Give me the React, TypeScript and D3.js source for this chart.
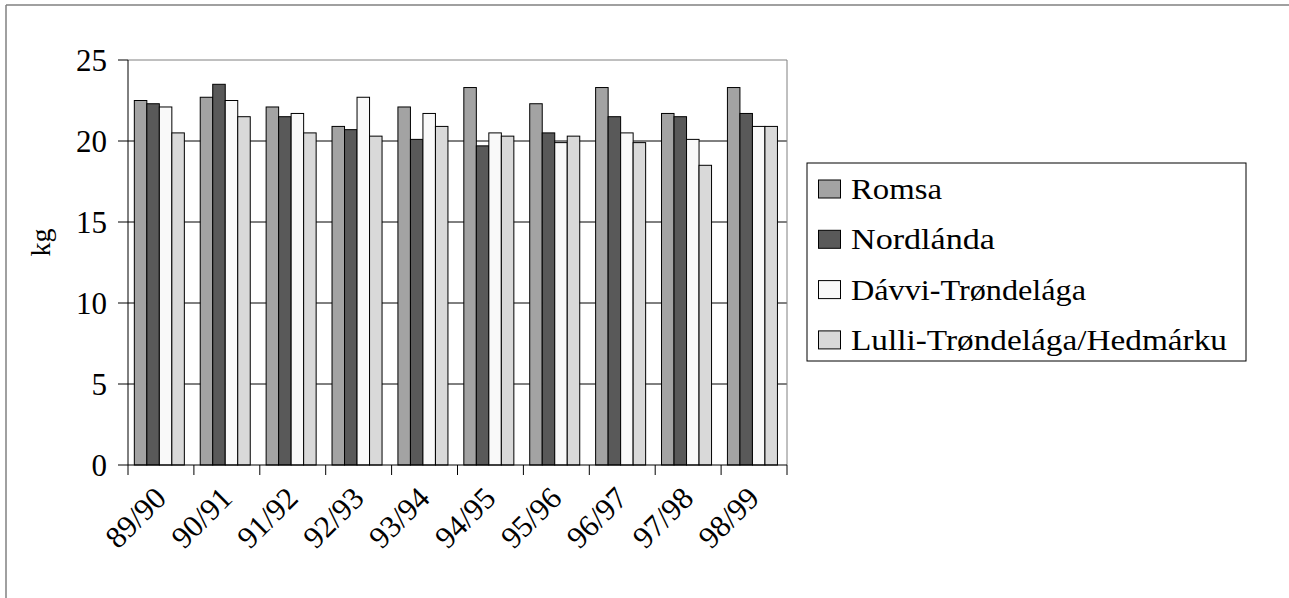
import { useEffect } from "react";
import * as d3 from "d3";

const seasons = ["89/90", "90/91", "91/92", "92/93", "93/94", "94/95", "95/96", "96/97", "97/98", "98/99"];
const regions = ["Romsa", "Nordlánda", "Dávvi-Trøndelága", "Lulli-Trøndelága/Hedmárku"];
const romsa = [22.5, 22.7, 22.1, 20.9, 22.1, 23.3, 22.3, 23.3, 21.7, 23.3];
const nordlanda = [22.3, 23.5, 21.5, 20.7, 20.1, 19.7, 20.5, 21.5, 21.5, 21.7];
const davvi = [22.1, 22.5, 21.7, 22.7, 21.7, 20.5, 19.9, 20.5, 20.1, 20.9];
const lulli = [20.5, 21.5, 20.5, 20.3, 20.9, 20.3, 20.3, 19.9, 18.5, 20.9];
const yTicks = [0, 5, 10, 15, 20, 25];
const fills = ["#a3a3a3", "#595959", "#f9f9f9", "#d9d9d9"];
// legend label widths in the original (wider typeface)
const legendWidths = [91, 144, 235, 376];

const series = [romsa, nordlanda, davvi, lulli];
const FONT = '"Liberation Serif", "DejaVu Serif", serif';

export default function App() {
  const W = 1289;
  const H = 598;
  const plot = { left: 128, right: 787, top: 60, bottom: 465 };

  useEffect(() => {
    document.body.style.margin = "0";
    document.body.style.overflow = "hidden";
  }, []);

  const x0 = d3.scaleBand<string>().domain(seasons).range([plot.left, plot.right]).padding(0);
  const bw = x0.bandwidth();
  // bars sit slightly left of centre in the original
  const x1 = d3.scaleBand<string>().domain(regions).range([bw * 0.096, bw * 0.855]).padding(0);
  const y = d3.scaleLinear().domain([0, 25]).range([plot.bottom, plot.top]);

  const legend = { x: 807, y: 163, w: 439, h: 198 };
  const txt = { fontFamily: FONT, fill: "#000" };

  return (
    <div style={{ position: "fixed", left: 0, top: 0, width: W, height: H, overflow: "hidden", background: "#fff" }}>
      <svg width={W} height={H} style={{ display: "block", background: "#fff" }}>
        {/* outer chart frame (cropped on right and bottom) */}
        <line x1={6} y1={5} x2={W} y2={5} stroke="#808080" strokeWidth={1.5} />
        <line x1={6} y1={5} x2={6} y2={H} stroke="#808080" strokeWidth={1.5} />

        {/* gridlines */}
        {yTicks.filter((t) => t > 0 && t < 25).map((t) => (
          <line key={t} x1={plot.left} x2={plot.right} y1={y(t)} y2={y(t)} stroke="#000" strokeWidth={1} />
        ))}
        {/* plot border top/right */}
        <line x1={plot.left} x2={plot.right} y1={plot.top} y2={plot.top} stroke="#808080" strokeWidth={1} />
        <line x1={plot.right} x2={plot.right} y1={plot.top} y2={plot.bottom} stroke="#808080" strokeWidth={1} />

        {/* bars */}
        {seasons.map((s, i) => (
          <g key={s} transform={`translate(${x0(s)},0)`}>
            {series.map((vals, j) => (
              <rect
                key={j}
                x={x1(regions[j])}
                y={y(vals[i])}
                width={x1.bandwidth()}
                height={y(0) - y(vals[i])}
                fill={fills[j]}
                stroke="#000"
                strokeWidth={1}
              />
            ))}
          </g>
        ))}

        {/* y axis */}
        <line x1={plot.left} x2={plot.left} y1={plot.top} y2={plot.bottom} stroke="#000" strokeWidth={1} />
        {yTicks.map((t) => (
          <g key={t}>
            <line x1={plot.left - 10} x2={plot.left} y1={y(t)} y2={y(t)} stroke="#000" strokeWidth={1} />
            <text x={plot.left - 21} y={y(t)} dy="0.35em" textAnchor="end" fontSize={31} style={txt}>
              {t}
            </text>
          </g>
        ))}
        <text
          transform={`translate(50,${(plot.top + plot.bottom) / 2 - 20}) rotate(-90)`}
          textAnchor="middle"
          fontSize={28}
          style={txt}
        >
          kg
        </text>

        {/* x axis */}
        <line x1={plot.left} x2={plot.right} y1={plot.bottom} y2={plot.bottom} stroke="#000" strokeWidth={1} />
        {seasons.map((s) => (
          <line key={s} x1={x0(s)!} x2={x0(s)!} y1={plot.bottom} y2={plot.bottom + 10} stroke="#000" strokeWidth={1} />
        ))}
        <line x1={plot.right} x2={plot.right} y1={plot.bottom} y2={plot.bottom + 10} stroke="#000" strokeWidth={1} />
        {seasons.map((s) => (
          <text
            key={s}
            transform={`translate(${x0(s)! + bw / 2 + 7},${plot.bottom + 35}) rotate(-45)`}
            textAnchor="end"
            fontSize={31}
            style={txt}
          >
            {s}
          </text>
        ))}

        {/* legend */}
        <rect x={legend.x} y={legend.y} width={legend.w} height={legend.h} fill="#fff" stroke="#000" strokeWidth={1} />
        {regions.map((r, j) => {
          const cy = 189 + j * 50.3;
          return (
            <g key={r}>
              <rect x={818.5} y={cy - 9} width={22} height={18} fill={fills[j]} stroke="#000" strokeWidth={1} />
              <text
                x={851}
                y={cy + 10}
                fontSize={30}
                textLength={legendWidths[j]}
                lengthAdjust="spacingAndGlyphs"
                style={txt}
              >
                {r}
              </text>
            </g>
          );
        })}
      </svg>
    </div>
  );
}
